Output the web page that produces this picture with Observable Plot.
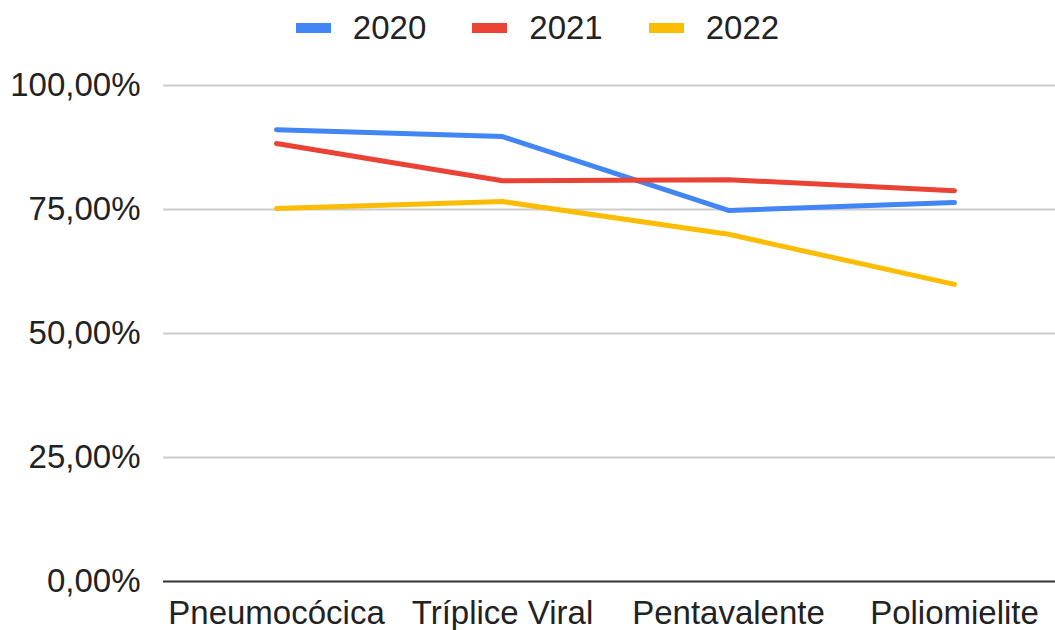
<!DOCTYPE html>
<html>
<head>
<meta charset="utf-8">
<script src="https://cdn.jsdelivr.net/npm/d3@7"></script>
<script src="https://cdn.jsdelivr.net/npm/@observablehq/plot@0.6"></script>
<style>
  html, body { margin: 0; padding: 0; background: #fff; }
  body { width: 1055px; height: 630px; overflow: hidden; font-family: "Liberation Sans", Arial, sans-serif; }
  #legend { height: 55px; display: flex; justify-content: center; align-items: center; padding-left: 20px; box-sizing: border-box; }
  .item { display: flex; align-items: center; margin: 0 23px; }
  .sw { width: 35px; height: 10px; margin-right: 22px; }
  .lab { font-size: 33px; color: #222; line-height: 1; }
  svg { display: block; }
</style>
</head>
<body>
<div id="legend"></div>
<div id="chart"></div>
<script>
const categories = ["Pneumocócica", "Tríplice Viral", "Pentavalente", "Poliomielite"];
const seriesNames = ["2020", "2021", "2022"];
const seriesColors = ["#4285F4", "#EA4335", "#FBBC04"];
const v2020 = [91.1, 89.7, 74.8, 76.4];
const v2021 = [88.3, 80.8, 81.0, 78.8];
const v2022 = [75.2, 76.6, 70.0, 59.9];
const yTicks = [0, 25, 50, 75, 100];

const seriesValues = [v2020, v2021, v2022];
const data = [];
seriesNames.forEach((s, i) => categories.forEach((c, j) => data.push({series: s, cat: c, value: seriesValues[i][j]})));

const fmt = d => d.toFixed(2).replace(".", ",") + "%";

const legend = document.getElementById("legend");
seriesNames.forEach((s, i) => {
  const it = document.createElement("div");
  it.className = "item";
  it.innerHTML = `<div class="sw" style="background:${seriesColors[i]}"></div><span class="lab">${s}</span>`;
  legend.appendChild(it);
});

const chart = Plot.plot({
  width: 1055,
  height: 575,
  marginTop: 30,
  marginBottom: 49,
  marginLeft: 163,
  marginRight: -12,
  style: { fontFamily: '"Liberation Sans", Arial, sans-serif', fontSize: "33px", color: "#222", background: "#fff" },
  x: { type: "point", domain: categories, padding: 0.5, label: null },
  y: { domain: [0, 100], label: null },
  color: { domain: seriesNames, range: seriesColors },
  marks: [
    Plot.ruleY(yTicks.filter(d => d > 0), { stroke: "#cccccc", strokeWidth: 2 }),
    Plot.axisY(yTicks, { tickSize: 0, tickPadding: 23, tickFormat: fmt, label: null, fontSize: 33 }),
    Plot.axisX({ tickSize: 0, tickPadding: 19, label: null, fontSize: 33 }),
    Plot.line(data, { x: "cat", y: "value", z: "series", stroke: "series", strokeWidth: 5, strokeLinejoin: "round" }),
    Plot.ruleY([0], { stroke: "#333333", strokeWidth: 2 })
  ]
});
document.getElementById("chart").appendChild(chart);
</script>
</body>
</html>
